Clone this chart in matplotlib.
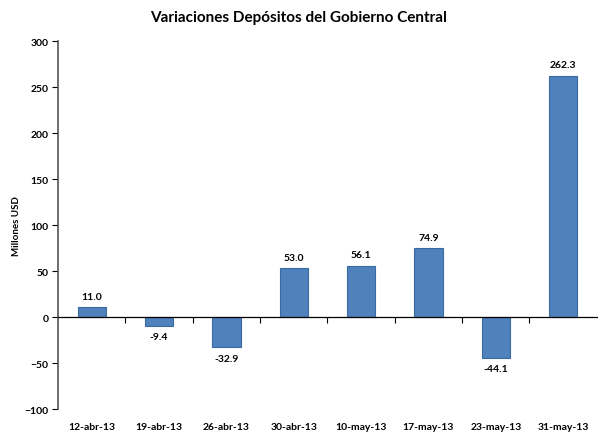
import matplotlib.pyplot as plt

plt.rcParams['font.family'] = ['Lato', 'DejaVu Sans']

# Datos
fechas = ["12-abr-13", "19-abr-13", "26-abr-13", "30-abr-13",
          "10-may-13", "17-may-13", "23-may-13", "31-may-13"]
variaciones = [11.0, -9.4, -32.9, 53.0, 56.1, 74.9, -44.1, 262.3]

fig = plt.figure(figsize=(5.98, 4.35), dpi=100)
ax = fig.add_axes([0.097, 0.057, 0.901, 0.846])

pos = list(range(len(fechas)))
ax.bar(pos, variaciones, width=0.42, color='#4F81BD', edgecolor='#3B6A9E', linewidth=0.8, zorder=2)

# Etiquetas de valores
for x, v in zip(pos, variaciones):
    if v >= 0:
        ax.text(x, v + 7, f"{v:.1f}", ha='center', va='bottom', fontsize=7.5, fontweight='bold')
    else:
        ax.text(x, v - 7, f"{v:.1f}", ha='center', va='top', fontsize=7.5, fontweight='bold')

ax.set_xlim(-0.5, len(fechas) - 0.5)
ax.set_ylim(-100, 300)
ax.set_yticks(range(-100, 301, 50))
ax.tick_params(axis='y', labelsize=7.5, length=4, width=0.8, direction='out', pad=3)
for lbl in ax.get_yticklabels():
    lbl.set_fontweight('bold')

# Eje x en el cero, marcas entre categorias
ax.spines['bottom'].set_position(('data', 0))
ax.spines['top'].set_visible(False)
ax.spines['right'].set_visible(False)
ax.spines['left'].set_color('#555555')
ax.spines['left'].set_linewidth(1.2)
ax.spines['bottom'].set_linewidth(0.9)
ax.set_xticks([p + 0.5 for p in pos[:-1]])
ax.set_xticklabels([])
ax.tick_params(axis='x', length=4, width=0.8, direction='out')

# Etiquetas de fecha debajo del grafico
for x, f in zip(pos, fechas):
    ax.text(x, -0.035, f, transform=ax.get_xaxis_transform(), ha='center', va='top',
            fontsize=7.5, fontweight='bold')

ax.set_ylabel("Millones USD", fontsize=7, fontweight='bold')
ax.yaxis.set_label_coords(-0.068, 0.5)
fig.suptitle("Variaciones Depósitos del Gobierno Central", fontsize=11, fontweight='bold', y=0.975)

fig.savefig("out.png", dpi=100)
